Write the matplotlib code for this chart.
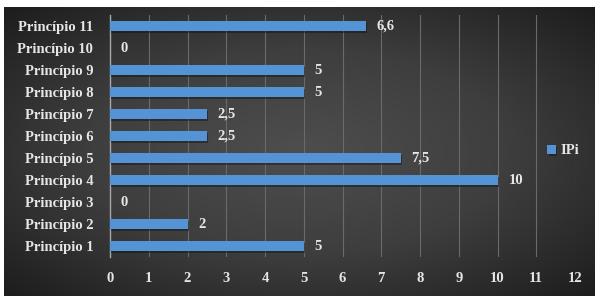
import numpy as np
import matplotlib
matplotlib.use("Agg")
import matplotlib.pyplot as plt
from matplotlib.colors import LinearSegmentedColormap
import matplotlib.patheffects as pe

categories = ["Princípio 1", "Princípio 2", "Princípio 3", "Princípio 4", "Princípio 5",
              "Princípio 6", "Princípio 7", "Princípio 8", "Princípio 9", "Princípio 10",
              "Princípio 11"]
values = [5, 2, 0, 10, 7.5, 2.5, 2.5, 5, 5, 0, 6.6]
value_labels = ["5", "2", "0", "10", "7,5", "2,5", "2,5", "5", "5", "0", "6,6"]
x_ticks = list(range(0, 13))
series_name = "IPi"

W, H = 602, 302
fig = plt.figure(figsize=(W / 100, H / 100), dpi=100, facecolor="white")

# background panel with radial gradient
bg = fig.add_axes([4 / W, 1 - 296 / H, (595 - 4) / W, (296 - 7) / H])
bg.set_axis_off()
nx, ny = 400, 200
xx, yy = np.meshgrid(np.linspace(-1, 1, nx), np.linspace(-1, 1, ny))
r = np.sqrt(xx ** 2 + yy ** 2) / np.sqrt(2)
cmap = LinearSegmentedColormap.from_list("bg", ["#4e4e4e", "#3e3e3e", "#1d1d1d"])
bg.imshow(r, cmap=cmap, aspect="auto", extent=[0, 1, 0, 1], vmin=0, vmax=1)
bg.set_xlim(0, 1)
bg.set_ylim(0, 1)

ax = fig.add_axes([110 / W, 1 - 257 / H, (575 - 110) / W, (257 - 15) / H])
ax.patch.set_alpha(0)
font = "Liberation Serif"
tc = "#e6e6e6"
fs = 10.5

y = np.arange(len(categories))
bars = ax.barh(y, values, height=0.45, color="#5393d6", zorder=3,
               path_effects=[pe.SimplePatchShadow(offset=(1, -1.5), shadow_rgbFace="#111111", alpha=0.45),
                             pe.Normal()])
for yi, v, lab in zip(y, values, value_labels):
    ax.text(v + 0.28, yi, lab, va="center", ha="left", fontsize=fs, fontweight="bold",
            family=font, color=tc, zorder=4)

ax.set_xlim(0, 12)
ax.set_ylim(-0.5, len(categories) - 0.5)
ax.set_xticks(x_ticks)
ax.set_xticklabels([str(t) for t in x_ticks], fontsize=fs, fontweight="bold", family=font, color=tc)
ax.set_yticks(y)
ax.set_yticklabels(categories, fontsize=fs, fontweight="bold", family=font, color=tc)
ax.tick_params(axis="both", length=0)
ax.tick_params(axis="x", pad=11)
ax.tick_params(axis="y", pad=12)
ax.grid(axis="x", color="#6a6a6a", linewidth=0.8, zorder=0)
for s in ["top", "right", "bottom"]:
    ax.spines[s].set_visible(False)
ax.spines["left"].set_color("#a8a8a8")
ax.spines["left"].set_linewidth(1)
ax.spines["left"].set_zorder(2)

leg = ax.legend([bars], [series_name], loc="center left", bbox_to_anchor=(534 / W, 0.5),
                bbox_transform=fig.transFigure, frameon=False, handlelength=0.6, handleheight=0.6,
                handletextpad=0.3, prop={"family": font, "weight": "bold", "size": fs})
for t in leg.get_texts():
    t.set_color(tc)

fig.savefig("out.png", dpi=100, facecolor="white")
